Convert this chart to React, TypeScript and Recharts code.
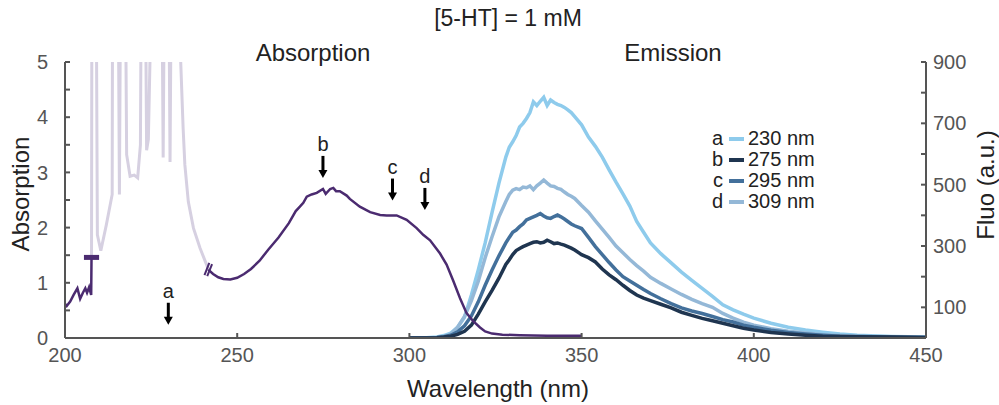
import React from 'react';
import { ComposedChart, Line, Scatter, XAxis, YAxis } from 'recharts';

const FONT = '"Liberation Sans", Arial, Helvetica, sans-serif';

// ---------- Absorption (left axis) ----------
const absLeftX = [200.0, 200.5, 201.5, 202.5, 203.6, 204.4, 205.2, 205.9, 206.4, 207.0, 207.6, 207.7];
const absLeftY = [0.62, 0.58, 0.66, 0.78, 0.9, 0.71, 0.82, 0.9, 0.82, 0.92, 0.78, 1.46];

const satX = [207.7, 207.8, 209.1, 209.4, 210.4, 212.0, 213.7, 213.8, 215.5, 215.8, 216.1, 217.6, 217.9, 218.9, 220.1, 221.1, 221.9, 222.1, 223.4, 223.7, 224.2, 225.0, 228.2, 228.5, 228.8, 230.2, 230.5, 230.8, 233.3, 233.6, 234.3, 234.8, 235.8, 237.3, 239.2, 241.1, 241.6];
const satY = [1.46, 6, 6, 1.87, 1.58, 2.05, 2.6, 6, 6, 2.6, 6, 6, 3.32, 2.93, 2.95, 2.9, 3.5, 6, 6, 3.4, 3.6, 6, 6, 3.27, 6, 6, 3.19, 6, 6, 5, 3.8, 3.14, 2.47, 1.99, 1.63, 1.33, 1.24];

const absMainX = [241.6, 243, 244.5, 246, 248, 250, 252, 254, 256.5, 259, 262, 265, 267, 268.2, 269.2, 270.2, 271.6, 273.1, 274.9, 275.7, 277, 277.9, 278.7, 279.8, 281.8, 282.7, 285.6, 288.6, 291.5, 293.4, 296.3, 299.2, 302.1, 304, 306, 308.9, 310.8, 312.7, 314.7, 316.6, 318.6, 320.5, 322, 324, 327, 332, 340, 350];
const absMainY = [1.24, 1.16, 1.1, 1.07, 1.06, 1.09, 1.16, 1.25, 1.4, 1.6, 1.82, 2.08, 2.3, 2.38, 2.45, 2.56, 2.6, 2.63, 2.7, 2.61, 2.7, 2.72, 2.66, 2.66, 2.58, 2.52, 2.38, 2.28, 2.23, 2.22, 2.22, 2.14, 1.99, 1.87, 1.77, 1.53, 1.33, 1.04, 0.72, 0.45, 0.3, 0.19, 0.12, 0.08, 0.06, 0.05, 0.04, 0.04];

const capX = [205.5, 209.9];
const capY = [1.46, 1.46];
const breakAX = [240.5, 241.9];
const breakAY = [1.14, 1.36];
const breakBX = [241.3, 242.7];
const breakBY = [1.12, 1.34];

// ---------- Emission (right axis) ----------
const emX = [300, 305, 308, 310, 312, 314, 316, 318, 320, 322, 324, 326, 328, 329, 330, 331, 332, 333, 334, 335, 336, 337, 338, 339, 340, 341, 342, 343, 344, 345, 346, 347, 348, 350, 352, 354, 356, 358, 360, 362, 364, 366, 368, 370, 373, 376, 379, 382, 385, 388, 391, 394, 397, 400, 405, 410, 415, 420, 425, 430, 440, 450];
const em230 = [1, 1, 3, 8, 16, 35, 68, 140, 222, 310, 410, 505, 590, 622, 640, 660, 688, 700, 716, 735, 770, 758, 772, 785, 758, 776, 768, 762, 758, 752, 744, 735, 722, 695, 655, 625, 590, 548, 508, 470, 430, 380, 345, 310, 275, 245, 215, 188, 162, 136, 108, 92, 78, 65, 48, 35, 26, 19, 13, 9, 5, 3];
const em275 = [0, 0, 1, 3, 6, 12, 22, 42, 78, 118, 155, 195, 240, 255, 272, 285, 292, 298, 303, 308, 312, 314, 310, 312, 319, 314, 308, 310, 306, 303, 298, 293, 287, 272, 262, 248, 225, 206, 190, 172, 155, 140, 130, 122, 110, 98, 84, 74, 64, 56, 48, 40, 32, 26, 18, 13, 9, 6, 5, 4, 3, 2];
const em295 = [0, 1, 2, 4, 9, 20, 40, 72, 118, 172, 222, 268, 310, 328, 345, 352, 363, 372, 385, 390, 395, 400, 406, 398, 392, 390, 396, 401, 395, 388, 380, 372, 366, 357, 328, 298, 272, 246, 222, 200, 186, 172, 158, 145, 128, 112, 98, 88, 80, 70, 60, 52, 42, 35, 25, 18, 13, 9, 6, 5, 3, 2];
const em309 = [1, 1, 2, 5, 12, 35, 70, 122, 185, 262, 330, 395, 445, 468, 482, 487, 484, 492, 490, 496, 484, 496, 505, 515, 505, 496, 494, 488, 485, 476, 468, 462, 455, 432, 410, 382, 355, 328, 300, 278, 256, 236, 218, 198, 178, 160, 142, 126, 112, 100, 80, 65, 52, 42, 30, 22, 16, 11, 8, 6, 4, 3];

// ---------- Annotations / legend ----------
const arrowX = [230, 274.9, 295.1, 304.5];
const arrowTip = [0.24, 2.9, 2.49, 2.32];
const arrowLabels = ['a', 'b', 'c', 'd'];

const legendLetters = ['a', 'b', 'c', 'd'];
const legendNames = ['230 nm', '275 nm', '295 nm', '309 nm'];
const legendColors = ['#8ecbec', '#1f3550', '#43709b', '#94b8d7'];

const leftTicks = [0, 0.5, 1, 1.5, 2, 2.5, 3, 3.5, 4, 4.5, 5];
const rightTicks = [0, 100, 200, 300, 400, 500, 600, 700, 800, 900];
const xTicks = [200, 250, 300, 350, 400, 450];

const PURPLE = '#4b2b70';
const LAVENDER = '#d6d0e1';
const AXIS = '#555555';

const pairs = (xs: number[], ys: number[]) => xs.map((x, i) => ({ x, y: ys[i] }));

const absLeft = pairs(absLeftX, absLeftY);
const sat = pairs(satX, satY);
const absMain = pairs(absMainX, absMainY);
const cap = pairs(capX, capY);
const breakA = pairs(breakAX, breakAY);
const breakB = pairs(breakBX, breakBY);
const emSeries = [em230, em275, em295, em309].map((vals) => pairs(emX, vals));
const arrows = arrowX.map((x, i) => ({ x, y: arrowTip[i], label: arrowLabels[i] }));

const ArrowShape = (props: any) => {
  const { cx, cy, payload } = props;
  if (cx == null || cy == null) return null;
  return (
    <g>
      <line x1={cx} y1={cy - 22} x2={cx} y2={cy - 7} stroke="#000" strokeWidth={3} />
      <path d={`M${cx - 4.5},${cy - 8} L${cx + 4.5},${cy - 8} L${cx},${cy} Z`} fill="#000" />
      <text x={cx} y={cy - 34} textAnchor="middle" dominantBaseline="central" fontSize={20} fill="#222" fontFamily={FONT}>
        {payload.label}
      </text>
    </g>
  );
};

const tickStyle = { fill: '#555', fontSize: 20, fontFamily: FONT };

export default function App() {
  return (
    <div style={{ position: 'absolute', left: 0, top: 0, width: 999, height: 405, background: '#fff' }}>
      <ComposedChart width={999} height={405} margin={{ top: 62, right: 0, left: 0, bottom: 0 }}>
        <XAxis
          type="number"
          dataKey="x"
          domain={[200, 450]}
          ticks={xTicks}
          height={67}
          allowDataOverflow
          stroke={AXIS}
          strokeWidth={2}
          tickSize={-5}
          tickMargin={15}
          tick={tickStyle}
          interval={0}
        />
        <YAxis
          yAxisId="left"
          type="number"
          domain={[0, 5]}
          ticks={leftTicks}
          width={65}
          allowDataOverflow
          stroke={AXIS}
          strokeWidth={2}
          tickSize={-5}
          tickMargin={22}
          tick={tickStyle}
          interval={0}
          tickFormatter={(v: number) => (Number.isInteger(v) ? String(v) : '')}
        />
        <YAxis
          yAxisId="right"
          orientation="right"
          type="number"
          domain={[0, 900]}
          ticks={rightTicks}
          width={73}
          allowDataOverflow
          stroke={AXIS}
          strokeWidth={2}
          tickSize={-5}
          tickMargin={12}
          tick={tickStyle}
          interval={0}
          tickFormatter={(v: number) => (v % 200 === 100 ? String(v) : '')}
        />
        <Line yAxisId="left" data={sat} dataKey="y" type="linear" stroke={LAVENDER} strokeWidth={3} dot={false} isAnimationActive={false} />
        <Line yAxisId="right" data={emSeries[0]} dataKey="y" type="linear" stroke={legendColors[0]} strokeWidth={3.5} dot={false} isAnimationActive={false} />
        <Line yAxisId="right" data={emSeries[3]} dataKey="y" type="linear" stroke={legendColors[3]} strokeWidth={3.5} dot={false} isAnimationActive={false} />
        <Line yAxisId="right" data={emSeries[2]} dataKey="y" type="linear" stroke={legendColors[2]} strokeWidth={3.5} dot={false} isAnimationActive={false} />
        <Line yAxisId="right" data={emSeries[1]} dataKey="y" type="linear" stroke={legendColors[1]} strokeWidth={3.5} dot={false} isAnimationActive={false} />
        <Line yAxisId="left" data={absLeft} dataKey="y" type="linear" stroke={PURPLE} strokeWidth={2.5} dot={false} isAnimationActive={false} />
        <Line yAxisId="left" data={absMain} dataKey="y" type="linear" stroke={PURPLE} strokeWidth={2.5} dot={false} isAnimationActive={false} />
        <Line yAxisId="left" data={cap} dataKey="y" type="linear" stroke={PURPLE} strokeWidth={5} dot={false} isAnimationActive={false} />
        <Line yAxisId="left" data={breakA} dataKey="y" type="linear" stroke={PURPLE} strokeWidth={2} dot={false} isAnimationActive={false} />
        <Line yAxisId="left" data={breakB} dataKey="y" type="linear" stroke={PURPLE} strokeWidth={2} dot={false} isAnimationActive={false} />
        <Scatter yAxisId="left" data={arrows} dataKey="y" shape={<ArrowShape />} isAnimationActive={false} />
      </ComposedChart>
      <div style={{ position: 'absolute', left: 701, top: 128, fontFamily: FONT, fontSize: 20, color: '#222', lineHeight: '21px' }}>
        {legendNames.map((name, i) => (
          <div key={name} style={{ display: 'flex', alignItems: 'center', height: 21 }}>
            <span style={{ width: 22, textAlign: 'right' }}>{legendLetters[i]}</span>
            <span style={{ display: 'inline-block', width: 15, height: 4, background: legendColors[i], margin: '0 4px 0 6px' }} />
            <span>{name}</span>
          </div>
        ))}
      </div>
      <svg width={999} height={405} style={{ position: 'absolute', left: 0, top: 0, pointerEvents: 'none' }}>
        <g fontFamily={FONT} fill="#222">
          <text x={508} y={18} fontSize={23} textAnchor="middle" dominantBaseline="central">[5-HT] = 1 mM</text>
          <text x={313} y={52} fontSize={24} textAnchor="middle" dominantBaseline="central">Absorption</text>
          <text x={673} y={52} fontSize={24} textAnchor="middle" dominantBaseline="central">Emission</text>
          <text x={498} y={388} fontSize={24} textAnchor="middle" dominantBaseline="central">Wavelength (nm)</text>
          <text x={20} y={194} fontSize={24} textAnchor="middle" dominantBaseline="central" transform="rotate(-90 20 194)">Absorption</text>
          <text x={985} y={185} fontSize={24} textAnchor="middle" dominantBaseline="central" transform="rotate(-90 985 185)">Fluo (a.u.)</text>
        </g>
      </svg>
    </div>
  );
}
